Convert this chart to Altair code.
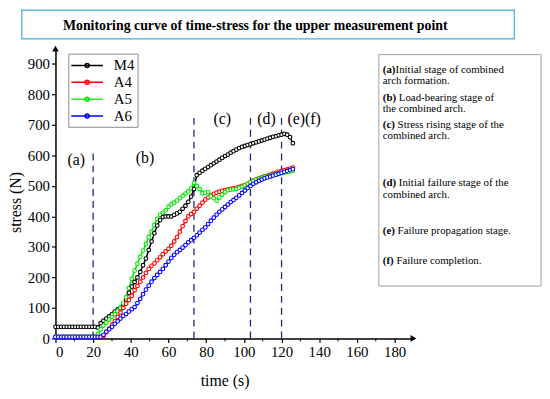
import altair as alt
import pandas as pd

# ---------------- data ----------------
time_s = [0, 1.5, 3, 4.5, 6, 7.5, 9, 10.5, 12, 13.5, 15, 16.5, 18, 19.5, 21, 22.5,
          24, 25.5, 27, 28.5, 30, 31.5, 33, 34.5, 36, 37.5, 39, 40.5, 42, 43.5, 45,
          46.5, 48, 49.5, 51, 52.5, 54, 55.5, 57, 58.5, 60, 61.5, 63, 64.5, 66, 67.5,
          69, 70.5, 72, 73.5, 75, 76.5, 78, 79.5, 81, 82.5, 84, 85.5, 87, 88.5, 90,
          91.5, 93, 94.5, 96, 97.5, 99, 100.5, 102, 103.5, 105, 106.5, 108, 109.5,
          111, 112.5, 114, 115.5, 117, 118.5, 120, 121.5, 123, 124.5, 126]

m4 = [38, 38, 38, 38, 38, 38, 38, 38, 38, 38, 38, 38, 38, 38, 38, 36,
      50, 58, 65, 72, 80,
      88, 95, 100, 112, 128,
      150, 170, 185, 200, 218,
      240, 262, 290, 318, 345,
      370, 388, 398, 400, 400,
      400, 405, 410, 415, 425,
      435, 448, 465, 490, 535,
      543, 550, 556, 562, 568,
      574, 580, 586, 592, 598,
      603, 609, 614, 619, 624,
      628, 631, 634, 637, 640,
      643, 646, 649, 652, 655,
      658, 661, 663, 666, 668,
      671, 668, 660, 640]

a4 = [5, 5, 5, 5, 5, 5, 5, 5, 5, 5, 5, 5, 5, 5, 5, 5, 5,
      8, 20, 32, 45,
      57, 70, 85, 100, 114,
      126, 140, 158, 172, 186,
      200, 215, 228, 238, 246,
      256, 266, 276, 285, 294,
      304, 318, 332, 350, 368,
      385, 400, 408, 415, 425,
      435, 445, 455, 462, 468,
      474, 478, 481, 484, 486,
      488, 490, 492, 494, 497,
      500, 503, 507, 512, 517,
      521, 525, 528, 531, 534,
      537, 540, 543, 546, 549,
      552, 554, 557, 560]

a5 = [5, 5, 5, 5, 5, 5, 5, 5, 5, 5, 5, 5, 5, 5, 5,
      15, 30, 42, 52, 62, 71,
      80, 90, 100, 115, 135,
      165, 195, 222, 245, 268,
      288, 310, 332, 350, 372,
      392, 405, 412, 420, 432,
      440, 445, 452, 460, 468,
      475, 482, 492, 510, 500,
      490, 476, 478, 480, 466,
      460, 452, 462, 472, 480,
      486, 488, 489, 490, 494,
      498, 502, 507, 512, 516,
      520, 524, 527, 530, 532,
      534, 536, 538, 540, 542,
      544, 546, 548, 550]

a6 = [5, 5, 5, 5, 5, 5, 5, 5, 5, 5, 5, 5, 5, 5, 5, 5, 5,
      12, 22, 30, 38,
      48, 56, 65, 74, 80,
      88, 96, 103, 116, 130,
      145, 160, 173, 186, 198,
      208, 218, 228, 240, 252,
      264, 274, 283, 290, 298,
      306, 315, 322, 330, 338,
      347, 356, 364, 375, 386,
      396, 406, 415, 423, 431,
      439, 447, 454, 461, 469,
      477, 485, 493, 500, 507,
      512, 517, 521, 525, 528,
      531, 534, 537, 540, 543,
      546, 549, 552, 555]

series_names = ["M4", "A4", "A5", "A6"]
series_colors = ["#000000", "#ff0000", "#00e600", "#0000ff"]

stage_x = [20, 73.5, 103.5, 120]
stage_top = [615, 735, 730, 730]

stage_labels = ["(a)", "(b)", "(c)", "(d)", "(e)(f)"]
stage_label_x = [11, 47.5, 88.5, 112, 132]
stage_label_y = [586, 592, 718, 718, 718]

x_ticks = [0, 20, 40, 60, 80, 100, 120, 140, 160, 180]
x_minor = [10, 30, 50, 70, 90, 110, 130, 150, 170]
y_ticks = [0, 100, 200, 300, 400, 500, 600, 700, 800, 900]

title_text = "Monitoring curve of time-stress for the upper measurement point"
note_bold = ["(a)", "", "(b)", "", "(c)", "", "(d)", "", "(e)", "(f)"]
note_rest = ["Initial stage of combined", "arch formation.",
             "Load-bearing stage of", "the combined arch.",
             "Stress rising stage of the", "combined arch.",
             "Initial failure stage of the", "combined arch.",
             "Failure propagation stage.", "Failure completion."]

# ---------------- layout ----------------
W, H = 362, 293
SERIF = "Liberation Serif"

rows = []
for name, vals in zip(series_names, [m4, a4, a5, a6]):
    for t, v in zip(time_s, vals):
        rows.append({"t": t, "v": v, "series": name})
df = pd.DataFrame(rows)

df_rules = pd.DataFrame({"t": stage_x, "v": [0] * len(stage_x), "v2": stage_top})
df_labels = pd.DataFrame({"t": stage_label_x, "v": stage_label_y, "label": stage_labels})
df_minor = pd.DataFrame({"t": x_minor})
one = pd.DataFrame({"k": [0]})

xscale = alt.Scale(domain=[0, 190], nice=False, zero=False)
yscale = alt.Scale(domain=[0, 950], nice=False, zero=False)

xaxis = alt.Axis(values=x_ticks, title="time (s)", grid=False,
                 labelFont=SERIF, labelFontSize=15, labelColor="black",
                 labelPadding=2, tickSize=4, tickColor="black", tickWidth=1.2,
                 domainColor="black", domainWidth=1.5,
                 titleFont=SERIF, titleFontSize=16, titleFontWeight="normal",
                 titleColor="black", titleX=171, titleY=43,
                 titleAlign="center", titleBaseline="middle")
yaxis = alt.Axis(values=y_ticks, title="stress (N)", grid=False,
                 labelFont=SERIF, labelFontSize=15, labelColor="black",
                 labelPadding=2, tickSize=4, tickColor="black", tickWidth=1.2,
                 domainColor="black", domainWidth=1.5,
                 titleFont=SERIF, titleFontSize=16, titleFontWeight="normal",
                 titleColor="black", titleX=-40, titleY=155, titleAngle=-90,
                 titleAlign="center", titleBaseline="middle")

X = alt.X("t:Q", scale=xscale, axis=xaxis)
Y = alt.Y("v:Q", scale=yscale, axis=yaxis)

# wide line-with-marker legend glyph (x extends to +-2 so the row stays short)
legend_path = ("M-2,0L2,0M-0.25,0A0.25,0.25,0,1,0,0.25,0"
               "A0.25,0.25,0,1,0,-0.25,0Z")

lines = alt.Chart(df).mark_line(
    strokeWidth=1.5,
    point=alt.OverlayMarkDef(filled=False, fill="white", size=14, strokeWidth=1.1),
).encode(
    x=X, y=Y,
    color=alt.Color("series:N",
                    scale=alt.Scale(domain=series_names, range=series_colors),
                    sort=series_names,
                    legend=alt.Legend(orient="none", legendX=13, legendY=5,
                                      title=None, strokeColor="#8a8a8a",
                                      fillColor="white", padding=3,
                                      symbolType=legend_path, symbolSize=256,
                                      symbolOffset=7,
                                      symbolStrokeWidth=1.5, labelFont=SERIF,
                                      labelFontSize=15, labelColor="black",
                                      labelOffset=18, rowPadding=0)),
    order=alt.Order("t:Q"),
)

rules = alt.Chart(df_rules).mark_rule(
    color="#1b2a7a", strokeDash=[7, 5], strokeWidth=1.3
).encode(x=X, y=Y, y2="v2:Q")

stage_text = alt.Chart(df_labels).mark_text(
    font=SERIF, fontSize=16, color="black", align="center", baseline="middle"
).encode(x=X, y=Y, text="label:N")

minor_ticks = alt.Chart(df_minor).mark_rule(color="black", strokeWidth=1).encode(
    x=X, y=alt.value(H), y2=alt.value(H + 3))

arrow_up = alt.Chart(pd.DataFrame({"t": [0], "v": [950]})).mark_point(
    shape="triangle-up", filled=True, color="black", size=45, opacity=1
).encode(x=X, y=Y)
arrow_right = alt.Chart(pd.DataFrame({"t": [190], "v": [0]})).mark_point(
    shape="triangle-right", filled=True, color="black", size=45, opacity=1
).encode(x=X, y=Y)

title_box = alt.Chart(one).mark_rect(
    fill="white", stroke="#3fb0d8", strokeWidth=1.2
).encode(x=alt.value(-34), x2=alt.value(464), y=alt.value(-39), y2=alt.value(-10))
title_mark = alt.Chart(one).mark_text(
    font=SERIF, fontSize=14, fontWeight="bold", color="black",
    align="center", baseline="middle", text=title_text
).encode(x=alt.value(202), y=alt.value(-23))

note_box = alt.Chart(one).mark_rect(
    fill="white", stroke="#a0a0a0", strokeWidth=1
).encode(x=alt.value(327), x2=alt.value(491), y=alt.value(6), y2=alt.value(240))

note_y = [21.5, 33, 49.5, 61, 77, 88.5, 136, 147.5, 184, 215]
NOTE_FS = 11
bold_w = {"(a)": 12.9, "(b)": 16.2, "(c)": 15.0, "(d)": 16.2, "(e)": 15.0, "(f)": 13.8}
note_layers = []
for b, r, yy in zip(note_bold, note_rest, note_y):
    x0 = 331
    if b:
        note_layers.append(alt.Chart(one).mark_text(
            font=SERIF, fontSize=NOTE_FS, fontWeight="bold", color="black",
            align="left", baseline="middle", text=b
        ).encode(x=alt.value(x0), y=alt.value(yy)))
        x0 = x0 + bold_w[b]
    note_layers.append(alt.Chart(one).mark_text(
        font=SERIF, fontSize=NOTE_FS, color="black",
        align="left", baseline="middle", text=r
    ).encode(x=alt.value(x0), y=alt.value(yy)))

chart = alt.layer(
    title_box, title_mark, note_box, *note_layers,
    rules, minor_ticks, lines, stage_text, arrow_up, arrow_right,
).properties(
    width=W, height=H,
    padding={"left": 48, "top": 39, "right": 130, "bottom": 51},
    autosize=alt.AutoSizeParams(type="none"),
).configure_view(stroke=None)

chart.save("out.html", embed_options={"renderer": "svg", "actions": False})
